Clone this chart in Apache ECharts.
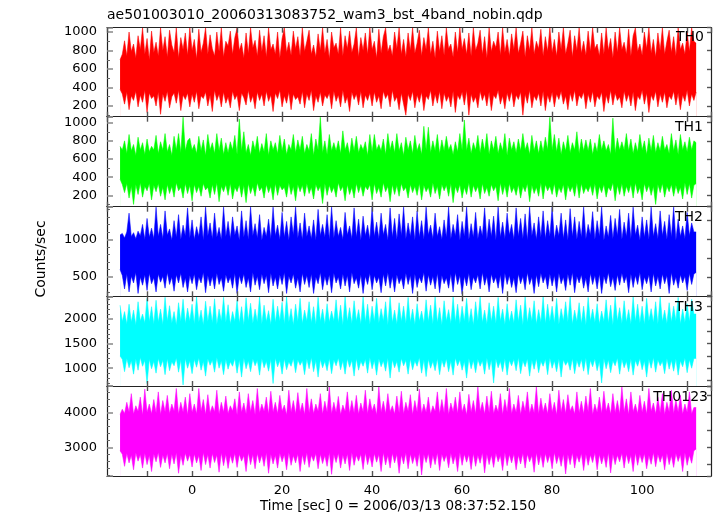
<!DOCTYPE html>
<html><head><meta charset="utf-8">
<script src="https://cdn.jsdelivr.net/npm/echarts@6/dist/echarts.min.js"></script>
<style>html,body{margin:0;padding:0;background:#fff}#c{width:717px;height:516px}</style>
</head><body><div id="c"></div>
<script>
// ---------- text ----------
const titleText = 'ae501003010_20060313083752_wam3_bst_4band_nobin.qdp';
const xTitle = 'Time [sec] 0 = 2006/03/13 08:37:52.150';
const yTitle = 'Counts/sec';
const bandNames = ['TH0', 'TH1', 'TH2', 'TH3', 'TH0123'];

// ---------- time bins (s) ----------
const timeStart = -16;
const timeStep = 0.5;

// ---------- per-bin upper / lower envelope of the light curves (counts/sec) ----------
const th0Hi = [
700,760,905,740,1000,790,870,720,960,810,1045,760,930,700,1010,780,
890,740,1045,800,950,730,1020,860,780,1045,720,940,810,990,750,1045,
800,920,710,1030,780,880,1045,760,970,820,740,1000,790,1045,730,900,
850,1010,760,940,1045,800,880,720,990,770,1045,830,910,740,1020,790,
960,730,1045,810,870,760,1000,720,930,1045,780,890,750,1010,820,950,
740,1045,790,900,1020,760,860,730,980,800,1045,770,920,710,1000,830,
880,760,1045,740,960,820,1010,780,870,1045,730,940,800,990,760,1045,
810,900,720,1030,770,950,1045,790,860,740,1000,820,1045,760,920,730,
990,800,1045,770,880,1020,740,940,810,1045,760,900,720,1010,790,960,
750,1045,820,870,730,1000,780,1045,810,930,760,990,740,1045,800,880,
1020,760,950,720,1045,790,900,830,1000,750,1045,780,920,740,980,810,
1045,770,880,1010,730,960,800,1045,760,900,820,1030,740,950,790,1045,
780,920,740,1000,810,1045,760,880,1020,730,960,800,1045,770,900,750,
1010,790,1045,820,870,740,990,760,1045,800,930,720,1000,780,1045,810,
890,760,1030,740,960,1045,790,870,750,1000,820,1045,770,920,730,990,
800,1045,760,900,1020,780,950,740,1045,810,880,760,1000,790,1045,900,
880];
const th0Lo = [
380,330,220,350,160,310,260,360,190,320,240,370,130,340,280,310,
200,350,110,330,250,360,180,300,340,230,370,150,320,270,340,190,
330,240,360,170,310,280,350,200,320,140,370,260,330,190,350,230,
300,180,360,270,320,150,340,290,210,370,240,310,170,350,260,330,
200,360,250,320,140,340,280,370,190,310,230,350,160,330,270,300,
220,360,180,330,260,370,150,310,240,350,200,320,280,340,170,360,
250,320,190,370,230,300,140,350,270,330,210,360,180,320,260,340,
200,350,240,310,170,360,280,330,190,370,250,300,160,340,220,100,
330,260,360,180,320,240,350,150,310,270,370,200,330,230,360,170,
340,250,310,190,360,130,320,270,350,210,370,100,330,240,300,180,
360,260,330,200,350,150,320,280,370,220,310,170,340,250,360,190,
320,270,350,100,330,230,370,180,310,260,340,200,360,150,320,240,
350,190,330,270,360,220,310,160,340,250,370,200,320,280,350,170,
330,240,360,190,310,270,350,140,320,230,370,210,340,260,300,180,
360,250,330,200,350,150,310,270,370,220,340,130,320,260,360,190,
330,240,350,180,310,270,360,210,340,160,320,250,370,200,330,260,
350];

const th1Hi = [
740,700,800,660,870,690,760,640,840,700,780,650,820,680,740,700,
860,660,790,700,880,680,760,640,850,700,880,670,1060,690,800,830,
700,760,660,850,690,810,640,870,700,780,660,880,690,830,650,780,
670,790,700,860,650,1040,690,900,670,760,640,800,700,850,660,770,
680,880,640,800,700,780,660,860,690,820,650,760,700,870,670,810,
700,850,660,760,690,880,640,820,700,1060,670,800,650,870,690,780,
690,800,660,910,700,780,650,830,690,850,670,760,700,790,640,870,
680,870,700,760,690,820,650,880,700,800,670,880,690,780,640,840,
700,800,660,860,690,770,650,960,700,950,670,800,690,870,660,810,
690,850,700,760,650,790,680,880,700,1030,690,830,660,780,700,860,
670,820,690,880,650,800,700,850,660,780,690,880,640,830,700,790,
670,820,690,880,700,780,650,860,690,800,660,800,680,840,700,1060,
700,870,680,830,650,790,690,860,670,780,700,900,660,820,690,810,
690,820,650,780,680,870,700,800,690,760,650,1050,670,830,700,790,
700,880,690,820,660,780,680,870,700,800,650,830,690,860,670,780,
690,850,700,760,660,880,690,810,650,870,700,790,680,840,700,800,
780];
const th1Lo = [
380,320,230,330,170,300,100,320,210,340,180,300,250,330,150,310,
240,330,190,290,150,320,220,300,180,340,250,290,170,330,220,310,
140,320,230,300,190,330,260,290,170,320,210,340,130,300,240,320,
200,330,160,290,240,320,180,310,120,330,220,300,190,340,250,290,
170,320,230,300,150,330,200,310,260,290,180,340,210,300,140,320,
240,310,190,330,220,290,160,320,250,300,110,330,200,310,230,290,
180,340,250,300,140,320,210,290,170,330,230,310,190,300,260,320,
150,330,220,290,180,340,240,300,130,320,210,310,190,330,250,290,
170,320,230,300,200,330,150,310,240,290,180,340,220,300,160,320,
250,310,190,330,120,300,230,320,170,290,210,340,180,310,240,300,
160,330,220,290,190,320,250,300,140,340,210,310,180,330,230,290,
200,320,170,300,240,330,130,310,220,290,190,340,160,320,250,300,
210,330,180,290,230,320,150,310,240,300,190,340,170,330,220,290,
240,310,200,330,160,300,230,320,180,290,250,340,140,310,210,330,
190,300,230,320,170,340,220,290,150,330,240,310,200,300,100,320,
230,330,180,300,240,320,190,310,220,290,160,340,210,330,170,310,
330];

const th2Hi = [
1060,1080,1020,1100,1350,1040,1090,1010,1110,1050,1200,1000,1280,1030,1150,1010,
1430,1040,1200,1010,1380,1060,1140,990,1250,1030,1330,1000,1190,1050,1420,1020,
1260,1000,1170,1040,1300,990,1430,1050,1220,1010,1350,1030,1160,1000,1430,1040,
1240,1010,1300,1060,1180,990,1380,1030,1250,1000,1430,1050,1210,1020,1330,990,
1160,1040,1270,1010,1430,1050,1190,1000,1360,1030,1240,990,1300,1060,1430,1020,
1220,1000,1350,1040,1180,1010,1260,990,1400,1050,1200,1030,1330,1000,1430,1020,
1250,1040,1160,1000,1360,1060,1180,1010,1420,1030,1270,990,1310,1050,1190,1000,
1430,1040,1230,1010,1350,1060,1200,990,1420,1030,1280,1000,1340,1050,1430,1010,
1220,1040,1300,990,1380,1030,1250,1000,1430,1060,1190,1010,1350,1040,1170,1000,
1260,1030,1430,1010,1200,1050,1330,990,1240,1040,1430,1000,1210,1030,1360,1010,
1180,1050,1420,1000,1270,1040,1310,990,1430,1030,1230,1010,1350,1060,1200,1000,
1420,1040,1280,1010,1340,990,1430,1050,1220,1000,1300,1030,1380,1010,1250,1040,
1430,1000,1190,1050,1350,1010,1260,990,1410,1040,1300,1000,1240,1030,1430,1010,
1200,1060,1370,1000,1250,1040,1430,990,1180,1030,1320,1010,1280,1050,1400,1000,
1230,1040,1350,1010,1430,1060,1190,990,1300,1030,1260,1000,1430,1040,1210,1010,
1380,1050,1240,1000,1330,1030,1430,990,1270,1040,1180,1010,1360,1050,1220,1100,
1100];
const th2Lo = [
600,520,340,540,300,510,420,560,280,500,390,530,320,550,410,490,
300,540,430,510,350,560,400,500,310,530,420,550,360,490,300,520,
410,540,330,500,420,560,290,520,380,510,340,550,400,490,310,530,
420,500,350,550,280,520,410,540,360,490,300,560,390,510,330,540,
410,520,290,550,380,500,340,530,400,560,280,510,420,540,350,490,
300,550,400,520,360,540,280,500,410,560,330,510,390,530,290,550,
420,500,340,540,380,520,300,560,410,490,350,530,280,510,400,550,
330,520,420,500,290,540,380,560,350,510,300,530,410,490,340,550,
400,520,280,540,360,500,420,560,310,530,390,510,340,550,290,520,
410,490,350,540,300,560,400,520,270,510,380,550,330,500,420,530,
340,560,390,510,300,540,420,500,350,530,280,550,400,520,360,490,
290,540,410,510,330,560,400,500,280,530,370,550,420,510,340,540,
380,520,300,550,410,500,320,540,390,560,290,510,420,530,350,490,
300,550,400,520,340,540,280,510,410,560,370,500,320,530,390,550,
420,510,290,540,360,520,400,560,330,500,410,530,300,550,380,510,
340,540,410,520,280,560,390,500,350,530,420,510,320,550,400,540,
560];

const th3Hi = [
2280,1950,2150,1900,2300,1940,2180,1880,2350,1960,2100,1920,2420,1950,2250,1900,
2380,1940,2200,1890,2440,1960,2270,1920,2150,1880,2330,1950,2400,1910,2220,1960,
2300,1900,2450,1940,2180,1880,2360,1950,2260,1920,2410,1890,2200,1960,2440,1930,
2290,1900,2150,1950,2380,1920,2250,1880,2430,1960,2320,1910,2200,1940,2450,1900,
2280,1950,2170,1890,2400,1930,2260,1960,2340,1900,2450,1940,2210,1880,2300,1950,
2420,1910,2180,1960,2350,1920,2250,1890,2440,1950,2200,1900,2310,1940,2160,1960,
2390,1920,2280,1880,2450,1950,2230,1910,2370,1960,2190,1900,2450,1940,2300,1890,
2260,1950,2420,1920,2210,1960,2350,1880,2450,1930,2180,1900,2330,1950,2260,1910,
2440,1940,2200,1890,2310,1960,2160,1920,2390,1950,2280,1900,2450,1930,2230,1880,
2370,1960,2190,1910,2450,1940,2300,1900,2260,1950,2420,1920,2210,1880,2350,1960,
2450,1930,2180,1900,2330,1950,2260,1910,2440,1960,2200,1890,2310,1940,2160,1920,
2390,1950,2280,1880,2450,1930,2230,1960,2370,1900,2190,1940,2450,1910,2300,1950,
2260,1920,2420,1890,2210,1960,2350,1940,2450,1900,2180,1950,2330,1910,2260,1880,
2440,1960,2200,1930,2310,1900,2160,1950,2390,1920,2280,1880,2450,1960,2230,1910,
2370,1940,2190,1900,2450,1950,2300,1920,2260,1890,2420,1960,2210,1930,2350,1900,
2450,1950,2180,1910,2330,1940,2260,1960,2440,1900,2200,1930,2310,1950,2400,2100,
2100];
const th3Lo = [
1250,1180,930,1200,1010,1150,880,1190,960,1220,1040,1160,690,1180,990,1140,
900,1200,1030,1160,870,1190,950,1130,1050,1210,920,1170,660,1200,1000,1150,
890,1180,1020,1210,960,1140,840,1190,1060,1160,920,1220,1000,1150,870,1180,
980,1130,1040,1200,900,1170,820,1210,990,1150,930,1190,1050,1160,860,1200,
1010,1140,940,1180,690,1210,1030,1160,880,1190,970,1130,1040,1200,910,1170,
1060,1150,870,1190,990,1220,930,1160,820,1180,1010,1140,950,1200,890,1170,
1050,1210,970,1150,880,1190,1020,1160,840,1200,960,1140,1040,1180,900,1220,
990,1160,860,1190,1030,1150,940,1210,800,1170,1010,1140,920,1200,1050,1160,
880,1190,970,1150,1040,1220,900,1170,830,1180,1000,1140,950,1200,870,1160,
1020,1190,930,1150,860,1210,1050,1170,960,1140,800,1200,990,1160,910,1180,
1040,1150,880,1210,970,1170,700,1190,1010,1140,930,1200,860,1160,1050,1180,
950,1220,890,1150,1030,1190,840,1160,980,1200,910,1140,1040,1180,870,1210,
1000,1150,930,1190,820,1170,1060,1140,960,1200,890,1160,1020,1180,940,1210,
870,1160,1030,1190,950,1140,700,1200,990,1170,910,1150,1050,1210,880,1180,
1010,1140,930,1190,860,1160,1040,1200,970,1150,820,1180,1000,1220,920,1170,
1050,1140,890,1200,980,1160,940,1190,860,1150,1030,1210,910,1170,1000,1200,
1200];

const th0123Hi = [
3950,4100,3980,4300,4020,4550,3960,4200,4040,4450,3930,4680,4010,4250,3970,4380,
4000,4600,3950,4350,4030,4500,3980,4250,4050,4700,3960,4300,4020,4450,3940,4550,
4010,4250,3970,4700,4040,4380,3950,4520,4000,4200,4030,4650,3960,4300,4020,4480,
3980,4200,4050,4400,3940,4600,4010,4280,3970,4550,4030,4350,3950,4700,4000,4250,
4040,4450,3960,4620,4020,4300,3980,4500,4050,4220,3940,4650,4010,4350,3970,4580,
4030,4280,3950,4700,4000,4400,3980,4250,4040,4550,3960,4330,4020,4740,3970,4300,
4010,4470,3950,4220,4040,4600,3980,4350,4000,4500,3960,4280,4030,4650,3970,4400,
4050,4250,3940,4750,4010,4330,3980,4550,4030,4200,3960,4480,4000,4620,3970,4300,
4040,4520,3950,4350,4020,4680,3980,4250,4010,4450,3960,4200,4040,4600,3970,4380,
4000,4700,3950,4280,4030,4450,3980,4600,4020,4250,3940,4530,4010,4350,3970,4750,
4040,4300,3960,4480,4000,4620,3980,4220,4030,4550,3950,4380,4020,4700,3970,4250,
4010,4500,3950,4330,4040,4600,3980,4250,4000,4750,3960,4420,4030,4280,3970,4550,
4020,4300,3940,4650,4010,4380,3980,4520,4050,4200,3960,4600,4000,4330,3970,4480,
4030,4700,3950,4250,4010,4450,3980,4620,4040,4280,3960,4550,4000,4350,3970,4750,
4020,4400,3950,4600,4030,4250,3980,4500,4010,4330,3960,4700,4040,4280,3970,4450,
4000,4550,3950,4300,4030,4650,3980,4380,4020,4500,3960,4250,4010,4600,3970,4150,
4150];
const th0123Lo = [
2900,2800,2450,2820,2550,2770,2350,2840,2600,2790,2400,2830,2500,2760,2300,2810,
2580,2850,2420,2780,2550,2820,2380,2800,2520,2840,2250,2770,2480,2830,2600,2790,
2430,2810,2550,2760,2330,2850,2500,2790,2400,2820,2560,2780,2280,2840,2470,2800,
2390,2770,2540,2830,2420,2800,2600,2760,2300,2850,2500,2790,2380,2820,2550,2780,
2450,2840,2250,2800,2520,2770,2400,2830,2580,2790,2350,2850,2480,2760,2550,2810,
2300,2790,2500,2840,2420,2770,2600,2820,2380,2800,2530,2760,2450,2850,2220,2790,
2560,2830,2400,2780,2520,2810,2330,2850,2480,2770,2600,2800,2360,2840,2500,2760,
2430,2820,2570,2790,2300,2850,2490,2770,2400,2830,2550,2800,2250,2780,2520,2840,
2380,2810,2530,2760,2450,2850,2200,2790,2560,2820,2400,2770,2500,2840,2330,2800,
2590,2780,2410,2830,2520,2760,2300,2850,2480,2800,2570,2790,2360,2820,2450,2770,
2540,2840,2260,2800,2500,2780,2420,2830,2580,2760,2330,2850,2470,2790,2550,2810,
2350,2770,2520,2830,2400,2800,2580,2760,2280,2840,2490,2790,2420,2820,2560,2780,
2380,2850,2530,2770,2450,2810,2230,2790,2500,2840,2400,2760,2570,2820,2330,2800,
2480,2780,2560,2840,2350,2790,2520,2760,2420,2850,2260,2800,2500,2770,2580,2830,
2400,2810,2530,2770,2300,2840,2480,2790,2560,2820,2380,2760,2510,2850,2440,2800,
2570,2780,2350,2830,2500,2760,2420,2820,2590,2790,2300,2840,2480,2770,2540,2900,
2950];

// ---------- axis ranges and tick labels ----------
const xMin = -18.9, xMax = 115.3;
const xTickLabels = [0, 20, 40, 60, 80, 100];
const yMins = [84, 75, 242, 639, 2171];
const yMaxs = [1047, 1066, 1436, 2461, 4771];
const yTickLabels = [
  [200, 400, 600, 800, 1000],
  [200, 400, 600, 800, 1000],
  [500, 1000],
  [1000, 1500, 2000],
  [3000, 4000]
];

// ---------- styling / layout ----------
const yMajorStep = [200, 200, 500, 500, 1000];
const yMinorSplit = [2, 2, 5, 5, 5];
const yRightStep = [200, 200, 250, 250, 500];
const colors = ['#ff0000', '#00ff00', '#0000ff', '#00ffff', '#ff00ff'];
const bounds = [27.7, 116.7, 206.7, 296.3, 386, 476];
const nameX = [704, 703, 703, 703, 708];
const nameY = [37.5, 127.5, 217.5, 307, 397.5];
const FONT = 'DejaVu Sans';

const his = [th0Hi, th1Hi, th2Hi, th3Hi, th0123Hi];
const los = [th0Lo, th1Lo, th2Lo, th3Lo, th0123Lo];

const grids = [], xAxes = [], yAxes = [], series = [], graphics = [];
const frameLine = { show: true, onZero: false, lineStyle: { color: '#222', width: 1.2 } };
const tickStyle = { color: '#555', width: 1.4 };
const isLabel = (v, list) => Math.abs(v - Math.round(v)) < 1e-6 && list.indexOf(Math.round(v)) >= 0;

for (let i = 0; i < 5; i++) {
  grids.push({ left: 107, right: 6, top: bounds[i], height: bounds[i + 1] - bounds[i] });
  xAxes.push({
    gridIndex: i, type: 'value', position: 'bottom', min: xMin, max: xMax,
    minInterval: 10, maxInterval: 10, z: 5,
    axisLine: frameLine,
    axisTick: { show: true, inside: true, length: 5, lineStyle: tickStyle },
    axisLabel: {
      show: i === 4, margin: 8, color: '#000', fontFamily: FONT, fontSize: 13,
      showMinLabel: false, showMaxLabel: false,
      formatter: v => isLabel(v, xTickLabels) ? String(Math.round(v)) : ''
    },
    splitLine: { show: false }
  });
  xAxes.push({
    gridIndex: i, type: 'value', position: 'top', min: xMin, max: xMax,
    minInterval: 10, maxInterval: 10, z: 5,
    axisLine: frameLine,
    axisTick: { show: true, inside: true, length: 5, lineStyle: tickStyle },
    axisLabel: { show: false }, splitLine: { show: false }
  });
  const labs = yTickLabels[i];
  yAxes.push({
    gridIndex: i, type: 'value', position: 'left', min: yMins[i], max: yMaxs[i],
    minInterval: yMajorStep[i], maxInterval: yMajorStep[i], z: 5,
    axisLine: frameLine,
    axisTick: { show: true, inside: true, length: 6, lineStyle: { color: '#888', width: 1.5 } },
    minorTick: { show: true, splitNumber: yMinorSplit[i], length: 3, lineStyle: { color: '#666', width: 1 } },
    axisLabel: {
      margin: 10, color: '#000', fontFamily: FONT, fontSize: 13,
      showMinLabel: false, showMaxLabel: false,
      formatter: v => isLabel(v, labs) ? String(Math.round(v)) : ''
    },
    splitLine: { show: false }, minorSplitLine: { show: false }
  });
  yAxes.push({
    gridIndex: i, type: 'value', position: 'right', min: yMins[i], max: yMaxs[i],
    minInterval: yRightStep[i], maxInterval: yRightStep[i], z: 5,
    axisLine: frameLine,
    axisTick: { show: true, inside: true, length: 4, lineStyle: tickStyle },
    axisLabel: { show: false }, splitLine: { show: false }
  });

  const n = Math.min(his[i].length, los[i].length);
  const upper = [], lower = [];
  for (let k = 0; k < n; k++) {
    const t = timeStart + k * timeStep;
    upper.push([t, his[i][k]]);
    lower.push([t, los[i][k]]);
  }
  // upper envelope: coloured fill down to the axis minimum
  series.push({
    type: 'line', xAxisIndex: 2 * i, yAxisIndex: 2 * i, data: upper,
    symbol: 'none', silent: true,
    lineStyle: { width: 1, color: colors[i], opacity: 0.55 },
    areaStyle: { color: colors[i], opacity: 1, origin: 'start' }, z: 2
  });
  // lower envelope: white fill below it, coloured edge line
  series.push({
    type: 'line', xAxisIndex: 2 * i, yAxisIndex: 2 * i, data: lower,
    symbol: 'none', silent: true,
    lineStyle: { width: 1, color: colors[i], opacity: 0.55 },
    areaStyle: { color: '#ffffff', opacity: 1, origin: 'start' }, z: 3
  });

  graphics.push({
    type: 'text', x: nameX[i], y: nameY[i], z: 10,
    style: { text: bandNames[i], fill: '#000', font: '14px "' + FONT + '"', textAlign: 'right', textVerticalAlign: 'middle' }
  });
}

graphics.push({
  type: 'text', x: 107, y: 15, z: 10,
  style: { text: titleText, fill: '#000', font: '14px "' + FONT + '"', textAlign: 'left', textVerticalAlign: 'middle' }
});
graphics.push({
  type: 'text', x: 398, y: 506, z: 10,
  style: { text: xTitle, fill: '#000', font: '13.5px "' + FONT + '"', textAlign: 'center', textVerticalAlign: 'middle' }
});
graphics.push({
  type: 'text', x: 41, y: 259, rotation: Math.PI / 2, z: 10,
  style: { text: yTitle, fill: '#000', font: '14px "' + FONT + '"', textAlign: 'center', textVerticalAlign: 'middle' }
});

const chart = echarts.init(document.getElementById('c'), null, { renderer: 'canvas' });
chart.setOption({
  backgroundColor: '#fff',
  animation: false,
  grid: grids, xAxis: xAxes, yAxis: yAxes, series: series, graphic: graphics
});
</script></body></html>
